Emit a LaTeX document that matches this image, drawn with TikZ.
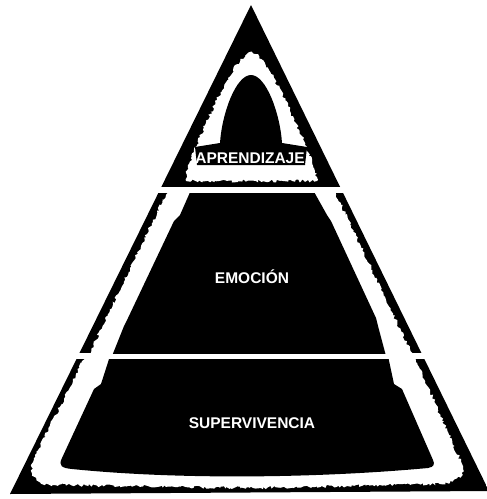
\documentclass[tikz,border=0pt]{standalone}
\usepackage{fontspec}
\setmainfont{Liberation Sans}
\usetikzlibrary{decorations.pathmorphing}
\begin{document}
\begin{tikzpicture}[x=1pt,y=-1pt,
  glow/.style={fill=white, decorate, decoration={random steps, segment length=2pt, amplitude=1.5pt}},
  core/.style={fill=black},
  sect/.style={fill=black},
  lbl/.style={text=white, font=\fontsize{15.5}{17}\selectfont\bfseries, inner sep=0pt, anchor=base}]
\pgfmathsetseed{7}
\useasboundingbox (0,0) rectangle (487,499);
\coordinate (A) at (251,5);
\coordinate (BL) at (10,494);
\coordinate (BR) at (489,491);
\begin{scope}
  \clip (A) -- (BL) -- (BR) -- cycle;
  % top section
  \begin{scope}
    \clip (0,0) rectangle (487,187);
    \fill[sect] (0,0) rectangle (487,187);
    \path[glow] plot[smooth] coordinates {(186,181) (188,168) (194,152) (203,130) (217,100) (233,70) (251,52) (269,70) (285,100) (299,130) (308,152) (314,168) (317,181)} -- cycle;
    \fill[core] (197,165) -- (195,147) -- (220,143) .. controls (222,113) and (236,75) .. (251,75) .. controls (266,75) and (280,113) .. (282,143) -- (307,147) -- (305,165) -- cycle;
  \end{scope}
  % middle section
  \begin{scope}
    \clip (0,193) rectangle (487,353);
    \fill[sect] (0,193) rectangle (487,353);
    \path[glow] (169,188) -- (87,358) -- (414,358) -- (333,188) -- cycle;
    \fill[core] (191,190) -- (180,215) -- (174,221) -- (128,318) -- (124,326) -- (112,356) -- (386,356) -- (378,326) -- (376,318) -- (331,221) -- (327,215) -- (313,190) -- cycle;
  \end{scope}
  % bottom section
  \begin{scope}
    \clip (0,359) rectangle (487,499);
    \fill[sect] (0,359) rectangle (487,499);
    \path[glow] (86,355) -- (34,458) .. controls (28,475) and (35,484) .. (55,485) -- (250,488) -- (440,484) .. controls (458,482) and (466,475) .. (461,462) -- (414,355) -- cycle;
    \fill[core] (110,356) -- (101,384) -- (94,389) -- (62,458) .. controls (58,466) and (62,468) .. (72,469) .. controls (180,480) and (320,478) .. (428,468) .. controls (434,467) and (435,464) .. (433,460) -- (402,389) -- (394,384) -- (388,356) -- cycle;
  \end{scope}
\end{scope}
\node[lbl] (t1) at (250,163) {APRENDIZAJE};
\node[lbl] (t2) at (252,283) {EMOCIÓN};
\node[lbl] (t3) at (252,428) {SUPERVIVENCIA};
\end{tikzpicture}
\end{document}
